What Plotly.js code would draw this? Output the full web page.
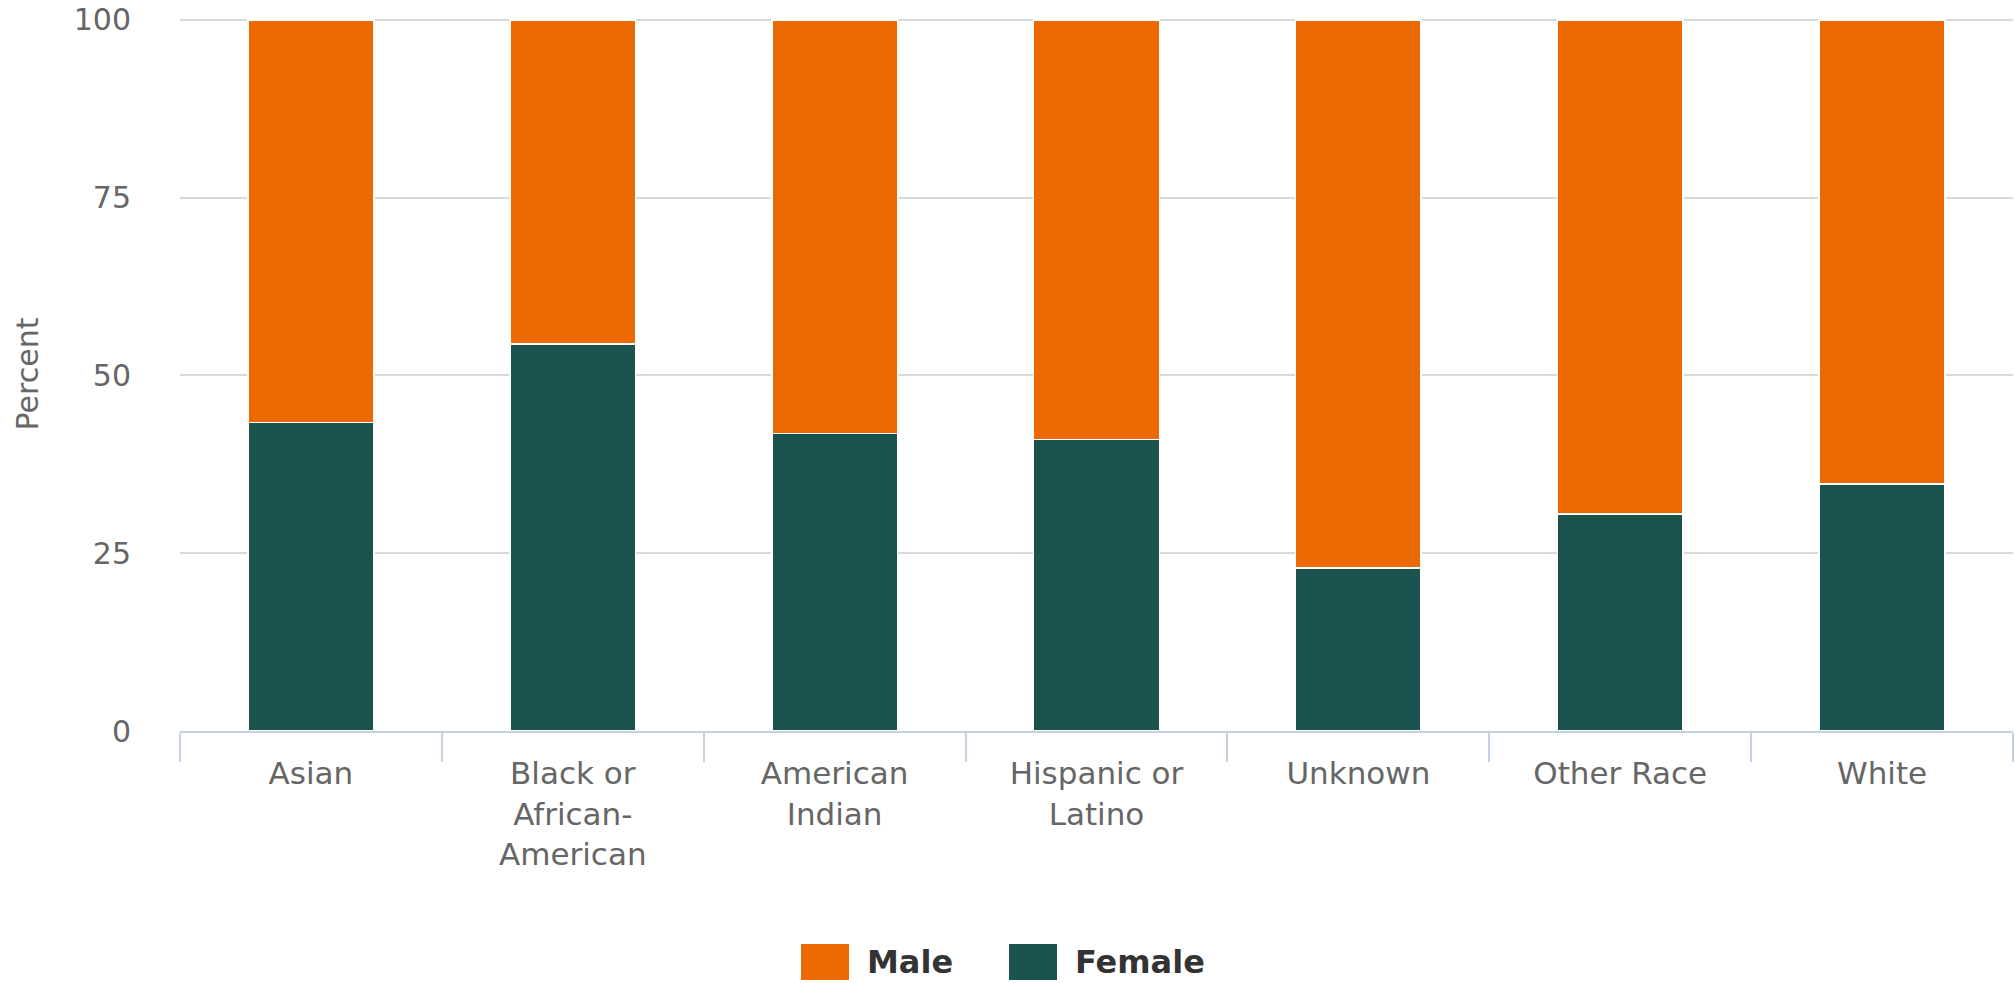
<!DOCTYPE html>
<html>
<head>
<meta charset="utf-8">
<script src="https://cdn.plot.ly/plotly-3.0.1.min.js"></script>
<style>
  html, body { margin: 0; padding: 0; background: #ffffff; }
  #chart { width: 2015px; height: 983px; }
</style>
</head>
<body>
<div id="chart"></div>
<script>
// Race / ethnicity categories (line breaks as shown under the axis)
const categories = [
  "Asian",
  "Black or<br>African-<br>American",
  "American<br>Indian",
  "Hispanic or<br>Latino",
  "Unknown",
  "Other Race",
  "White"
];

// Share of each group by sex, in percent
const femaleValues = [43.4, 54.4, 41.8, 41.0, 22.9, 30.5, 34.7];
const maleValues   = [56.6, 45.6, 58.2, 59.0, 77.1, 69.5, 65.3];

const seriesNames = ["Male", "Female"];
const yTicks = [0, 25, 50, 75, 100];

const MALE_COLOR = "#EB6900";
const FEMALE_COLOR = "#1A524F";
const TEXT_COLOR = "#666666";

const barLine = { color: "#ffffff", width: 1.5 };

const traces = [
  {
    type: "bar",
    name: seriesNames[1],
    x: categories,
    y: femaleValues,
    marker: { color: FEMALE_COLOR, line: barLine },
    showlegend: false,
    hoverinfo: "x+y+name"
  },
  {
    type: "bar",
    name: seriesNames[0],
    x: categories,
    y: maleValues,
    marker: { color: MALE_COLOR, line: barLine },
    showlegend: false,
    hoverinfo: "x+y+name"
  }
];

// Value range: a small headroom above 100 keeps the top grid line visible
const Y_MAX = 100.4;

// Plot-area geometry in pixels, used to place the legend in paper units
const W = 2015, H = 983;
const M = { l: 180, r: 2, t: 17, b: 252 };
const plotW = W - M.l - M.r;
const plotH = H - M.t - M.b;
const px = v => (v - M.l) / plotW;
const py = v => (H - M.b - v) / plotH;

// Legend: colour swatch followed by the series name
const legendItems = [
  { name: seriesNames[0], color: MALE_COLOR, x0: 801, textX: 865 },
  { name: seriesNames[1], color: FEMALE_COLOR, x0: 1009, textX: 1073 }
];
const shapes = [];
const annotations = [];
legendItems.forEach(item => {
  shapes.push({
    type: "rect", xref: "paper", yref: "paper",
    x0: px(item.x0), x1: px(item.x0 + 48),
    y0: py(980), y1: py(944),
    fillcolor: item.color, line: { width: 0 }
  });
  annotations.push({
    xref: "paper", yref: "paper",
    x: px(item.textX), y: py(962),
    xanchor: "left", yanchor: "middle",
    text: "<b>" + item.name + "</b>",
    showarrow: false,
    font: { family: "DejaVu Sans, sans-serif", size: 32, color: "#333333" }
  });
});

const layout = {
  width: W,
  height: H,
  margin: M,
  paper_bgcolor: "#ffffff",
  plot_bgcolor: "#ffffff",
  barmode: "stack",
  bargap: 0.52,
  font: { family: "DejaVu Sans, sans-serif", size: 30, color: TEXT_COLOR },
  showlegend: false,
  xaxis: {
    type: "category",
    tickson: "boundaries",
    ticks: "outside",
    ticklen: 29,
    tickwidth: 2,
    tickcolor: "#C4D3E3",
    showline: true,
    linecolor: "#C4D3E3",
    linewidth: 2,
    showgrid: false,
    ticklabelstandoff: 14,
    tickfont: { size: 31, color: TEXT_COLOR },
    fixedrange: true
  },
  yaxis: {
    range: [0, Y_MAX],
    tickvals: yTicks,
    ticktext: yTicks.map(String),
    ticks: "outside",
    ticklen: 42,
    tickcolor: "rgba(0,0,0,0)",
    showline: false,
    zeroline: false,
    showgrid: true,
    gridcolor: "#D9D9D9",
    gridwidth: 2,
    tickfont: { size: 30, color: TEXT_COLOR },
    title: { text: "Percent", font: { size: 30, color: TEXT_COLOR }, standoff: 26 },
    fixedrange: true
  },
  shapes: shapes,
  annotations: annotations
};

Plotly.newPlot("chart", traces, layout, { displayModeBar: false, staticPlot: true });
</script>
</body>
</html>
